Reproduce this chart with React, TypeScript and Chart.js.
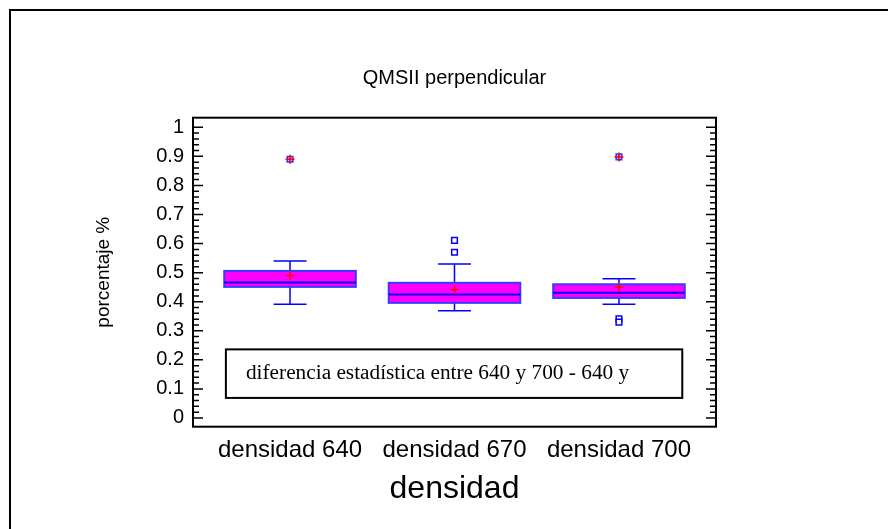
import React, { useEffect, useRef } from "react";
import { Chart, registerables } from "chart.js";

Chart.register(...registerables);

// ---- data ----
const categories = ["densidad 640", "densidad 670", "densidad 700"];
const q1Values = [0.451, 0.396, 0.413];
const q3Values = [0.506, 0.465, 0.46];
const medianValues = [0.466, 0.425, 0.431];
const whiskerLowValues = [0.391, 0.369, 0.391];
const whiskerHighValues = [0.54, 0.53, 0.479];
const meanValues = [0.49, 0.441, 0.45];
const outlierGroups = [1, 1, 2, 2];
const outlierValues = [0.611, 0.57, 0.341, 0.33];
const farOutlierGroups = [0, 2];
const farOutlierValues = [0.89, 0.898];
const yTickValues = [0, 0.1, 0.2, 0.3, 0.4, 0.5, 0.6, 0.7, 0.8, 0.9, 1];
const yTickLabels = ["0", "0.1", "0.2", "0.3", "0.4", "0.5", "0.6", "0.7", "0.8", "0.9", "1"];
const noteText = "diferencia estadística entre 640 y 700 - 640 y";

// ---- style / layout constants ----
const SANS = "'Liberation Sans', Arial, sans-serif";
const SERIF = "'Liberation Serif', 'Times New Roman', serif";
const BOX_HALF = 0.4;
const CAP_HALF = 0.1;
const NOTE_X0 = -0.39;
const NOTE_X1 = 2.385;
const NOTE_Y0 = 0.069;
const NOTE_Y1 = 0.236;
const NOTE_TEXT_X = -0.268;
const NOTE_TEXT_Y = 0.133;

const boxPlugin = {
  id: "boxplot",
  beforeDatasetsDraw(chart: any) {
    const { ctx } = chart;
    const x = chart.scales.x;
    const y = chart.scales.y;
    ctx.save();
    categories.forEach((_, i) => {
      const cx = x.getPixelForValue(i);
      const left = x.getPixelForValue(i - BOX_HALF);
      const right = x.getPixelForValue(i + BOX_HALF);
      const capL = x.getPixelForValue(i - CAP_HALF);
      const capR = x.getPixelForValue(i + CAP_HALF);
      const yq1 = y.getPixelForValue(q1Values[i]);
      const yq3 = y.getPixelForValue(q3Values[i]);
      const ymed = y.getPixelForValue(medianValues[i]);
      const ywl = y.getPixelForValue(whiskerLowValues[i]);
      const ywh = y.getPixelForValue(whiskerHighValues[i]);

      ctx.strokeStyle = "#0000ff";
      ctx.lineWidth = 1.5;
      ctx.beginPath();
      ctx.moveTo(cx, yq3);
      ctx.lineTo(cx, ywh);
      ctx.moveTo(capL, ywh);
      ctx.lineTo(capR, ywh);
      ctx.moveTo(cx, yq1);
      ctx.lineTo(cx, ywl);
      ctx.moveTo(capL, ywl);
      ctx.lineTo(capR, ywl);
      ctx.stroke();

      ctx.fillStyle = "#ff00ff";
      ctx.fillRect(left, yq3, right - left, yq1 - yq3);
      ctx.strokeStyle = "#3a3aff";
      ctx.lineWidth = 2;
      ctx.strokeRect(left, yq3, right - left, yq1 - yq3);

      ctx.strokeStyle = "#0000ff";
      ctx.lineWidth = 2;
      ctx.beginPath();
      ctx.moveTo(left, ymed);
      ctx.lineTo(right, ymed);
      ctx.stroke();
    });
    ctx.restore();
  },
  afterDatasetsDraw(chart: any) {
    const { ctx } = chart;
    const x = chart.scales.x;
    const y = chart.scales.y;
    ctx.save();
    const nx0 = x.getPixelForValue(NOTE_X0);
    const nx1 = x.getPixelForValue(NOTE_X1);
    const ny0 = y.getPixelForValue(NOTE_Y1);
    const ny1 = y.getPixelForValue(NOTE_Y0);
    ctx.fillStyle = "#ffffff";
    ctx.fillRect(nx0, ny0, nx1 - nx0, ny1 - ny0);
    ctx.strokeStyle = "#000000";
    ctx.lineWidth = 2;
    ctx.strokeRect(nx0, ny0, nx1 - nx0, ny1 - ny0);
    ctx.fillStyle = "#000000";
    ctx.font = `21.3px ${SERIF}`;
    ctx.textAlign = "left";
    ctx.textBaseline = "alphabetic";
    ctx.fillText(noteText, x.getPixelForValue(NOTE_TEXT_X), y.getPixelForValue(NOTE_TEXT_Y));
    ctx.restore();
  },
  afterDraw(chart: any) {
    const { ctx, chartArea } = chart;
    const y = chart.scales.y;
    const { left, right, top, bottom } = chartArea;
    ctx.save();
    // outer frame (only left/top visible)
    ctx.strokeStyle = "#000000";
    ctx.lineWidth = 2;
    ctx.beginPath();
    ctx.moveTo(10, chart.height + 5);
    ctx.lineTo(10, 10);
    ctx.lineTo(chart.width + 5, 10);
    ctx.stroke();
    // plot frame
    ctx.strokeRect(left, top, right - left, bottom - top);
    // tick marks
    ctx.lineWidth = 1.5;
    ctx.beginPath();
    for (let k = 0; k <= 50; k++) {
      const v = k / 50;
      const py = y.getPixelForValue(v);
      const len = k % 5 === 0 ? 10 : 6;
      ctx.moveTo(left, py);
      ctx.lineTo(left + len, py);
      ctx.moveTo(right, py);
      ctx.lineTo(right - len, py);
    }
    ctx.stroke();
    ctx.restore();
  },
};

export default function App() {
  const canvasRef = useRef<HTMLCanvasElement | null>(null);

  useEffect(() => {
    if (!canvasRef.current) return;
    const chart = new Chart(canvasRef.current, {
      type: "scatter",
      data: {
        datasets: [
          {
            label: "media",
            data: meanValues.map((v, i) => ({ x: i, y: v })),
            pointStyle: "cross",
            pointRadius: 4.5,
            borderColor: "#ff0000",
            backgroundColor: "#ff0000",
            borderWidth: 1.5,
          },
          {
            label: "far-cross",
            data: farOutlierValues.map((v, i) => ({ x: farOutlierGroups[i], y: v })),
            pointStyle: "cross",
            pointRadius: 4.5,
            borderColor: "#ff0000",
            backgroundColor: "#ff0000",
            borderWidth: 1.5,
          },
          {
            label: "far",
            data: farOutlierValues.map((v, i) => ({ x: farOutlierGroups[i], y: v })),
            pointStyle: "rect",
            pointRadius: 4,
            borderColor: "#3333ff",
            backgroundColor: "#b0b0ff",
            borderWidth: 1.5,
          },
          {
            label: "outliers",
            data: outlierValues.map((v, i) => ({ x: outlierGroups[i], y: v })),
            pointStyle: "rect",
            pointRadius: 4,
            borderColor: "#0000ff",
            backgroundColor: "#ffffff",
            borderWidth: 1.5,
          },
        ],
      },
      options: {
        animation: false,
        responsive: false,
        events: [],
        layout: { padding: { left: 0, right: 172, top: 0, bottom: 0 } },
        plugins: {
          legend: { display: false },
          tooltip: { enabled: false },
          title: {
            display: true,
            text: "QMSII perpendicular",
            fullSize: false,
            color: "#000000",
            font: { family: SANS, size: 20, weight: "normal" },
            padding: { top: 66, bottom: 27.7 },
          },
        },
        scales: {
          x: {
            type: "linear",
            position: "bottom",
            min: -0.59,
            max: 2.59,
            grid: { display: false, drawTicks: false },
            border: { display: false },
            afterBuildTicks: (scale: any) => {
              scale.ticks = categories.map((_, i) => ({ value: i }));
            },
            afterFit: (scale: any) => {
              scale.height = 102.3;
            },
            ticks: {
              autoSkip: false,
              maxRotation: 0,
              minRotation: 0,
              padding: 9,
              color: "#000000",
              font: { family: SANS, size: 24 },
              callback: (v: any) => categories[Math.round(Number(v))] ?? "",
            },
            title: {
              display: true,
              text: "densidad",
              color: "#000000",
              font: { family: SANS, size: 32 },
              padding: { top: 0, bottom: 21 },
            },
          },
          y: {
            type: "linear",
            position: "left",
            min: -0.03,
            max: 1.033,
            grid: { display: false, drawTicks: false },
            border: { display: false },
            afterBuildTicks: (scale: any) => {
              scale.ticks = yTickValues.map((v) => ({ value: v }));
            },
            afterFit: (scale: any) => {
              scale.width = 193;
            },
            ticks: {
              padding: 9,
              color: "#000000",
              font: { family: SANS, size: 20 },
              callback: (v: any) => {
                const idx = yTickValues.findIndex((t) => Math.abs(t - Number(v)) < 1e-9);
                return idx >= 0 ? yTickLabels[idx] : "";
              },
            },
            title: {
              display: true,
              text: "porcentaje %",
              color: "#000000",
              font: { family: SANS, size: 19 },
              padding: { top: 92.6, bottom: 0 },
            },
          },
        },
      },
      plugins: [boxPlugin],
    } as any);
    return () => chart.destroy();
  }, []);

  return (
    <div style={{ position: "absolute", left: 0, top: 0, width: 888, height: 529, background: "#ffffff" }}>
      <canvas ref={canvasRef} width={888} height={529} style={{ display: "block" }} />
    </div>
  );
}
